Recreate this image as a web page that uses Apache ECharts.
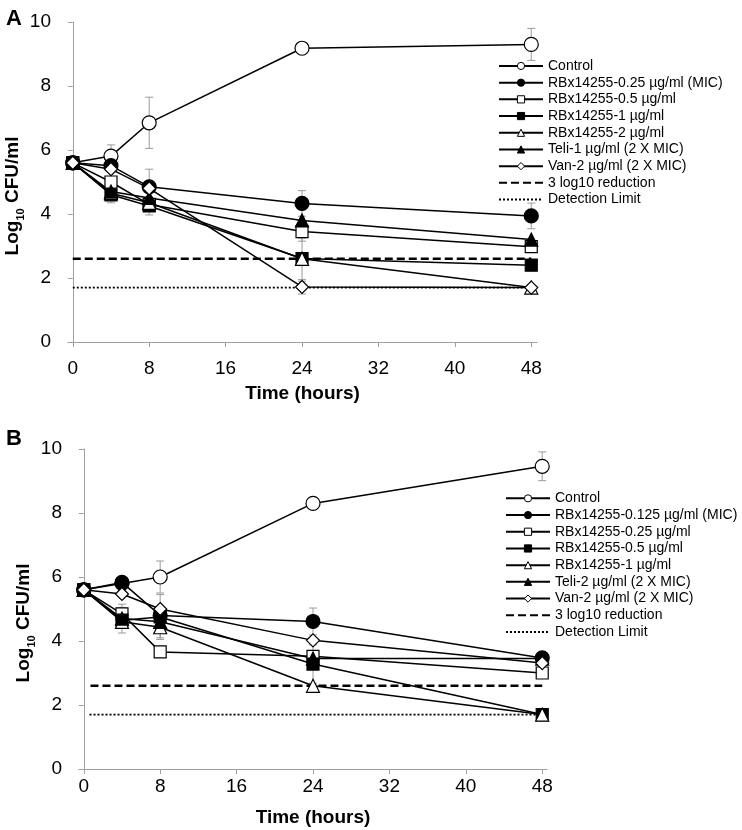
<!DOCTYPE html>
<html>
<head>
<meta charset="utf-8">
<script src="https://cdn.jsdelivr.net/npm/echarts@6/dist/echarts.min.js"></script>
<style>
  html, body { margin: 0; padding: 0; background: #fff; }
  .panel { width: 742px; height: 415px; }
</style>
</head>
<body>
<div id="panelA" class="panel"></div>
<div id="panelB" class="panel"></div>
<script>
// sampling times (hours)
const times = [0, 4, 8, 24, 48];
const tickHours = [0, 8, 16, 24, 32, 40, 48];

// panel A (log10 CFU/ml)
const namesA = ['Control', 'RBx14255-0.25 µg/ml (MIC)', 'RBx14255-0.5 µg/ml', 'RBx14255-1 µg/ml',
  'RBx14255-2 µg/ml', 'Teli-1 µg/ml (2 X MIC)', 'Van-2 µg/ml (2 X MIC)'];
const controlA = [5.6, 5.81, 6.85, 9.18, 9.3];
const rbxMicA = [5.6, 5.51, 4.85, 4.33, 3.94];
const rbx2xA = [5.6, 5.0, 4.3, 3.45, 2.98];
const rbx4xA = [5.6, 4.6, 4.25, 2.61, 2.4];
const rbx8xA = [5.6, 4.65, 4.35, 2.6, 1.7];
const teliA = [5.6, 4.7, 4.5, 3.8, 3.2];
const vanA = [5.6, 5.4, 4.8, 1.72, 1.7];
// [time, mean, sd]
const errA = [[4, 5.81, 0.35], [8, 6.85, 0.8], [48, 9.3, 0.5], [8, 4.85, 0.55], [24, 4.33, 0.4],
  [48, 3.94, 0.4], [24, 3.45, 0.3], [24, 2.6, 0.65], [24, 1.7, 0.2], [4, 4.6, 0.25], [8, 4.25, 0.28]];
const reductionA = [[0, 2.6], [48, 2.6]];
const limitA = [[0, 1.7], [48, 1.7]];

// panel B
const namesB = ['Control', 'RBx14255-0.125 µg/ml (MIC)', 'RBx14255-0.25 µg/ml', 'RBx14255-0.5 µg/ml',
  'RBx14255-1 µg/ml', 'Teli-2 µg/ml (2 X MIC)', 'Van-2 µg/ml (2 X MIC)'];
const controlB = [5.6, 5.8, 6.0, 8.3, 9.46];
const rbxMicB = [5.6, 5.83, 4.8, 4.61, 3.47];
const rbx2xB = [5.6, 4.85, 3.66, 3.52, 3.0];
const rbx4xB = [5.6, 4.65, 4.75, 3.28, 1.7];
const rbx8xB = [5.6, 4.6, 4.43, 2.6, 1.7];
const teliB = [5.6, 4.7, 4.6, 3.45, 3.45];
const vanB = [5.6, 5.47, 5.0, 4.02, 3.31];
const errB = [[8, 6.0, 0.5], [48, 9.46, 0.45], [24, 4.61, 0.42], [4, 4.65, 0.4], [4, 4.85, 0.3],
  [8, 4.75, 0.7], [8, 4.45, 0.35], [24, 3.28, 0.6]];
const reductionB = [[0.7, 2.6], [48, 2.6]];
const limitB = [[0.6, 1.7], [48, 1.7]];

const refName = '3 log10 reduction';
const limName = 'Detection Limit';
const FONT = "'Liberation Sans', Arial, sans-serif";
const axisGrey = '#a0a0a0';

// marker look per series position
const markers = [
  { symbol: 'circle', size: 14, fill: '#fff' },
  { symbol: 'circle', size: 14, fill: '#000' },
  { symbol: 'rect', size: 12, fill: '#fff' },
  { symbol: 'rect', size: 12, fill: '#000' },
  { symbol: 'triangle', size: 13, fill: '#fff' },
  { symbol: 'triangle', size: 13, fill: '#000' },
  { symbol: 'diamond', size: 13, fill: '#fff' }
];

function lineSeries(name, values, i) {
  const m = markers[i];
  return {
    name, type: 'line',
    data: times.map((t, k) => [t, values[k]]),
    symbol: m.symbol, symbolSize: m.size,
    lineStyle: { color: '#000', width: 1.5 },
    itemStyle: { color: m.fill, borderColor: '#000', borderWidth: 1.2 },
    emphasis: { disabled: true }
  };
}

function refSeries(name, data, type, width) {
  return {
    name, type: 'line', data, symbol: 'none',
    lineStyle: { color: '#000', width, type },
    itemStyle: { color: 'rgba(0,0,0,0)', borderColor: 'rgba(0,0,0,0)', borderWidth: 0 },
    emphasis: { disabled: true }
  };
}

function errSeries(data) {
  return {
    type: 'custom', z: 1, silent: true, data,
    renderItem(params, api) {
      const x = api.value(0), y = api.value(1), e = api.value(2);
      const top = api.coord([x, y + e]);
      const bot = api.coord([x, y - e]);
      const st = { stroke: '#9a9a9a', lineWidth: 1 };
      return {
        type: 'group', children: [
          { type: 'line', shape: { x1: top[0], y1: top[1], x2: bot[0], y2: bot[1] }, style: st },
          { type: 'line', shape: { x1: top[0] - 4, y1: top[1], x2: top[0] + 4, y2: top[1] }, style: st },
          { type: 'line', shape: { x1: bot[0] - 4, y1: bot[1], x2: bot[0] + 4, y2: bot[1] }, style: st }
        ]
      };
    }
  };
}

function drawPanel(el, p) {
  const series = [errSeries(p.err),
    refSeries(refName, p.reduction, [8, 4], 2.5),
    refSeries(limName, p.limit, [2, 2], 1.8)];
  p.names.forEach((n, i) => series.push(lineSeries(n, p.vals[i], i)));

  const chart = echarts.init(document.getElementById(el));
  chart.setOption({
    backgroundColor: '#fff',
    animation: false,
    title: { text: p.label, left: 1, top: p.labelTop,
      textStyle: { fontFamily: FONT, fontSize: 22, fontWeight: 'bold', color: '#000' } },
    grid: { left: p.left, top: p.top, width: p.width, height: 320, containLabel: false, outerBoundsMode: 'none' },
    xAxis: {
      type: 'value', min: -0.5, max: p.xMax,
      name: 'Time (hours)', nameLocation: 'middle', nameGap: p.nameGap, nameMoveOverlap: false,
      nameTextStyle: { fontFamily: FONT, fontSize: 19, fontWeight: 'bold', color: '#000' },
      axisLine: { lineStyle: { color: axisGrey } },
      axisTick: { customValues: tickHours, length: 5, lineStyle: { color: axisGrey } },
      axisLabel: { customValues: tickHours, margin: p.labelMargin, fontFamily: FONT, fontSize: 19, color: '#000' },
      splitLine: { show: false }
    },
    yAxis: {
      type: 'value', min: 0, max: 10, interval: 2,
      name: 'Log{sub|10} CFU/ml', nameLocation: 'middle', nameGap: p.yNameGap, nameRotate: 90,
      nameMoveOverlap: false,
      nameTextStyle: {
        fontFamily: FONT, fontSize: 19, fontWeight: 'bold', color: '#000', lineHeight: 26,
        padding: [0, 28, 0, 0],
        rich: { sub: { fontFamily: FONT, fontSize: 11, fontWeight: 'bold', verticalAlign: 'bottom', lineHeight: 26 } }
      },
      axisLine: { show: true, lineStyle: { color: axisGrey } },
      axisTick: { show: true, length: 5, lineStyle: { color: axisGrey } },
      axisLabel: { margin: 17, fontFamily: FONT, fontSize: 19, color: '#000' },
      splitLine: { show: false }
    },
    legend: {
      orient: 'vertical', left: p.legendLeft, top: p.legendTop, padding: 0, itemGap: 0,
      itemWidth: 44, itemHeight: 9,
      data: p.names.concat([refName, limName]),
      textStyle: { fontFamily: FONT, fontSize: 14, lineHeight: 16.7, color: '#000' },
      itemStyle: { borderWidth: 1 },
      selectedMode: false
    },
    series
  });
}

drawPanel('panelA', {
  label: 'A', labelTop: 3, left: 68, top: 22, width: 469, xMax: 48.6, labelMargin: 17, nameGap: 42,
  yNameGap: 42, legendLeft: 498, legendTop: 57.6,
  names: namesA, vals: [controlA, rbxMicA, rbx2xA, rbx4xA, rbx8xA, teliA, vanA],
  err: errA, reduction: reductionA, limit: limitA
});
drawPanel('panelB', {
  label: 'B', labelTop: 8, left: 79, top: 34, width: 468, xMax: 48.5, labelMargin: 8, nameGap: 39,
  yNameGap: 42, legendLeft: 505, legendTop: 75,
  names: namesB, vals: [controlB, rbxMicB, rbx2xB, rbx4xB, rbx8xB, teliB, vanB],
  err: errB, reduction: reductionB, limit: limitB
});
</script>
</body>
</html>
